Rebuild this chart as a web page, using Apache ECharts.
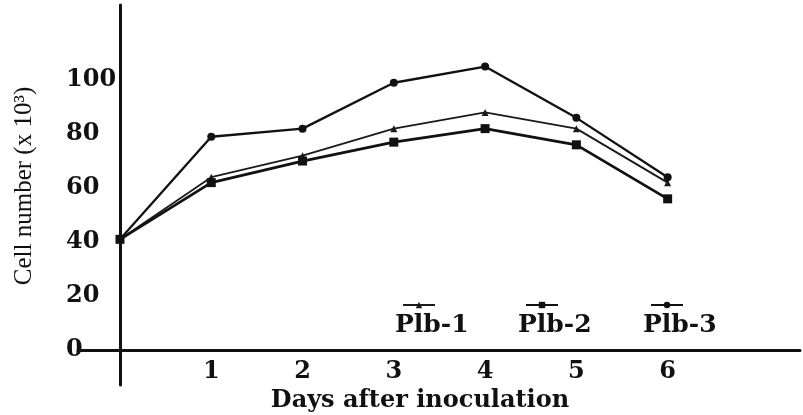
<!DOCTYPE html>
<html>
<head>
<meta charset="utf-8">
<script src="https://cdn.jsdelivr.net/npm/echarts@6/dist/echarts.min.js"></script>
<style>
  html, body { margin: 0; padding: 0; background: #fff; }
  #chart { width: 803px; height: 415px; }
</style>
</head>
<body>
<div id="chart"></div>
<script>
// days after inoculation
var days = [0, 1, 2, 3, 4, 5, 6];
// cell number (x 10^3)
var plb1 = [41, 64, 72, 82, 88, 82, 62];
var plb2 = [41, 62, 70, 77, 82, 76, 56];
var plb3 = [41, 79, 82, 99, 105, 86, 64];
var yTicks = [0, 20, 40, 60, 80, 100];
var xTicks = [1, 2, 3, 4, 5, 6];

var serif = 'DejaVu Serif';

function pairs(vals) {
  return days.map(function (d, i) { return [d, vals[i]]; });
}

// legend marker sits above its label, as in the scan
function legendFor(name, left) {
  return {
    data: [name],
    left: left,
    top: 265,
    padding: 0,
    selectedMode: false,
    itemWidth: 32,
    itemHeight: 8,
    formatter: '\n{name}',
    textStyle: {
      fontFamily: serif,
      fontWeight: 'bold',
      fontSize: 25,
      lineHeight: 40,
      color: '#111',
      padding: [0, 0, 0, -45]
    }
  };
}

var chart = echarts.init(document.getElementById('chart'));
chart.setOption({
  backgroundColor: '#fff',
  animation: false,
  grid: { left: 78, right: 3, top: 5, bottom: 30, outerBoundsMode: 'none', containLabel: false },
  legend: [
    legendFor('Plb-1', 395),
    legendFor('Plb-2', 518),
    legendFor('Plb-3', 643)
  ],
  xAxis: {
    type: 'value',
    min: -0.46,
    max: 7.45,
    name: 'Days after inoculation',
    nameLocation: 'middle',
    nameGap: 1,
    nameTextStyle: {
      fontFamily: serif, fontWeight: 'bold', fontSize: 24, color: '#111',
      padding: [0, 38, 0, 0]
    },
    axisLine: { onZero: true, lineStyle: { color: '#111', width: 3 } },
    axisTick: { show: false },
    splitLine: { show: false },
    axisLabel: {
      customValues: xTicks,
      margin: -25,
      fontFamily: serif, fontWeight: 'bold', fontSize: 24, color: '#111'
    }
  },
  yAxis: {
    type: 'value',
    min: -12.96,
    max: 127.8,
    name: 'Cell number (x 10³)',
    nameLocation: 'middle',
    nameGap: 41,
    nameRotate: 90,
    nameTextStyle: {
      fontFamily: 'Liberation Serif', fontSize: 25, color: '#111',
      padding: [0, 0, 0, 18]
    },
    axisLine: { onZero: true, lineStyle: { color: '#111', width: 3 } },
    axisTick: { show: false },
    splitLine: { show: false },
    axisLabel: {
      customValues: yTicks,
      margin: 12,
      align: 'left',
      fontFamily: serif, fontWeight: 'bold', fontSize: 24, color: '#111'
    }
  },
  series: [
    {
      name: 'Plb-1', type: 'line', data: pairs(plb1),
      symbol: 'triangle', symbolSize: 7,
      lineStyle: { color: '#1a1a1a', width: 1.8 },
      itemStyle: { color: '#1a1a1a' }
    },
    {
      name: 'Plb-2', type: 'line', data: pairs(plb2),
      symbol: 'rect', symbolSize: 9,
      lineStyle: { color: '#111', width: 2.8 },
      itemStyle: { color: '#111' }
    },
    {
      name: 'Plb-3', type: 'line', data: pairs(plb3),
      symbol: 'circle', symbolSize: 8,
      lineStyle: { color: '#111', width: 2.3 },
      itemStyle: { color: '#111' }
    }
  ]
});
</script>
</body>
</html>
